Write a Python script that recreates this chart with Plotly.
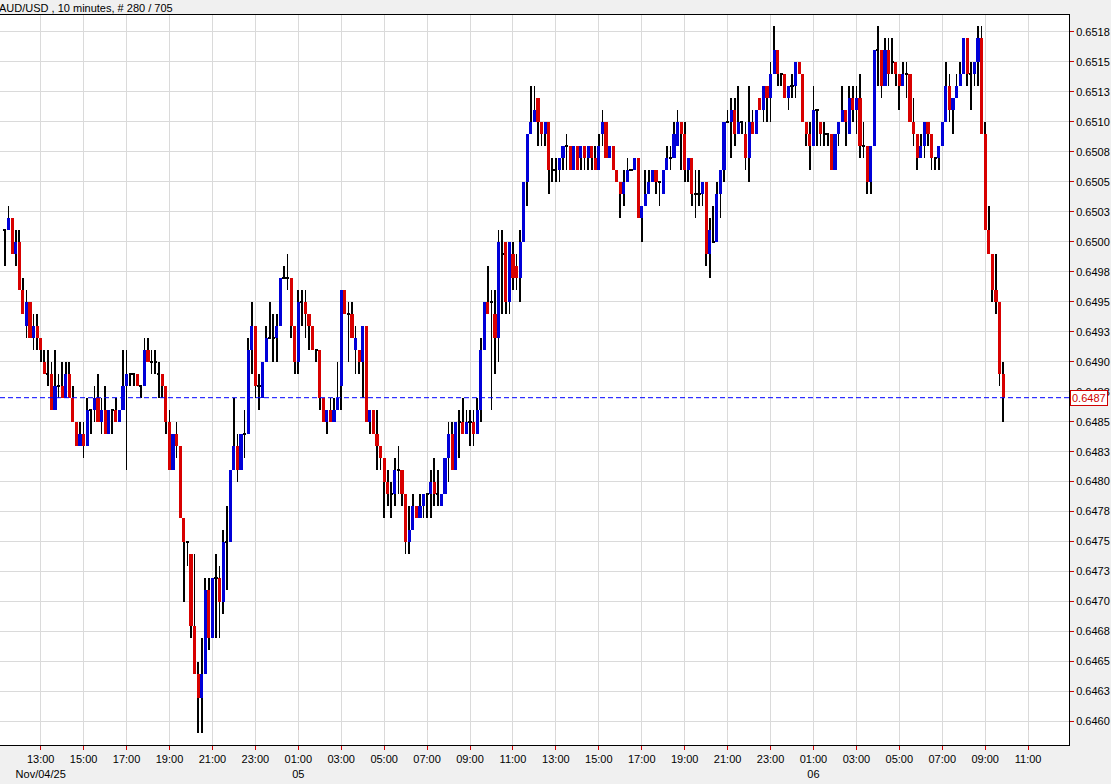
import plotly.graph_objects as go
import pandas as pd

# ---------------- data (AUD/USD, 10 minute bars) ----------------
times = pd.date_range("2025-11-04 11:20", periods=280, freq="10min")

opens = [
    0.6501, 0.6501, 0.6502, 0.6499, 0.6500, 0.6496, 0.6493, 0.6495, 0.6492, 0.6493,
    0.6492, 0.6490, 0.6489, 0.6489, 0.6486, 0.6488, 0.6488, 0.6487, 0.6489, 0.6487,
    0.6485, 0.6483, 0.6484, 0.6483, 0.6486, 0.6486, 0.6487, 0.6485, 0.6486, 0.6484,
    0.6486, 0.6486, 0.6485, 0.6486, 0.6488, 0.6489, 0.6489, 0.6489, 0.6488, 0.6488,
    0.6491, 0.6490, 0.6490, 0.6489, 0.6489, 0.6488, 0.6485, 0.6481, 0.6484, 0.6483,
    0.6477, 0.6475, 0.6474, 0.6468, 0.6464, 0.6462, 0.6464, 0.6471, 0.6467, 0.6472,
    0.6472, 0.6470, 0.6475, 0.6475, 0.6481, 0.6483, 0.6481, 0.6484, 0.6484, 0.6491,
    0.6493, 0.6488, 0.6487, 0.6490, 0.6492, 0.6492, 0.6492, 0.6493, 0.6497, 0.6497,
    0.6497, 0.6493, 0.6490, 0.6495, 0.6495, 0.6494, 0.6493, 0.6491, 0.6491, 0.6487,
    0.6485, 0.6486, 0.6485, 0.6486, 0.6488, 0.6496, 0.6494, 0.6494, 0.6491, 0.6491,
    0.6490, 0.6493, 0.6485, 0.6486, 0.6484, 0.6483, 0.6482, 0.6480, 0.6479, 0.6479,
    0.6481, 0.6481, 0.6479, 0.6475, 0.6476, 0.6478, 0.6477, 0.6478, 0.6479, 0.6479,
    0.6480, 0.6479, 0.6478, 0.6479, 0.6482, 0.6484, 0.6481, 0.6485, 0.6485, 0.6484,
    0.6485, 0.6485, 0.6484, 0.6486, 0.6491, 0.6495, 0.6495, 0.6494, 0.6492, 0.6499,
    0.6500, 0.6495, 0.6499, 0.6498, 0.6497, 0.6500, 0.6505, 0.6509, 0.6510, 0.6512,
    0.6510, 0.6509, 0.6510, 0.6506, 0.6506, 0.6506, 0.6507, 0.6508, 0.6508, 0.6506,
    0.6508, 0.6507, 0.6508, 0.6507, 0.6508, 0.6507, 0.6506, 0.6509, 0.6510, 0.6507,
    0.6508, 0.6506, 0.6505, 0.6504, 0.6505, 0.6506, 0.6506, 0.6507, 0.6502, 0.6503,
    0.6504, 0.6505, 0.6506, 0.6505, 0.6504, 0.6506, 0.6507, 0.6507, 0.6508, 0.6510,
    0.6509, 0.6506, 0.6507, 0.6504, 0.6504, 0.6504, 0.6505, 0.6499, 0.6500, 0.6500,
    0.6504, 0.6506, 0.6510, 0.6510, 0.6511, 0.6509, 0.6510, 0.6509, 0.6507, 0.6510,
    0.6509, 0.6512, 0.6511, 0.6513, 0.6512, 0.6514, 0.6516, 0.6514, 0.6514, 0.6512,
    0.6513, 0.6513, 0.6515, 0.6514, 0.6510, 0.6509, 0.6508, 0.6511, 0.6510, 0.6509,
    0.6509, 0.6509, 0.6506, 0.6509, 0.6510, 0.6511, 0.6509, 0.6512, 0.6511, 0.6512,
    0.6508, 0.6508, 0.6505, 0.6508, 0.6516, 0.6516, 0.6513, 0.6516, 0.6515, 0.6515,
    0.6514, 0.6513, 0.6514, 0.6514, 0.6510, 0.6509, 0.6507, 0.6508, 0.6510, 0.6509,
    0.6507, 0.6507, 0.6508, 0.6510, 0.6513, 0.6511, 0.6512, 0.6513, 0.6514, 0.6517,
    0.6514, 0.6514, 0.6515, 0.6517, 0.6509, 0.6501, 0.6499, 0.6496, 0.6495, 0.6489,
]

highs = [
    0.6501, 0.6503, 0.6502, 0.6501, 0.6501, 0.6497, 0.6496, 0.6495, 0.6494, 0.6494,
    0.6492, 0.6491, 0.6491, 0.6490, 0.6491, 0.6489, 0.6490, 0.6490, 0.6490, 0.6488,
    0.6485, 0.6485, 0.6485, 0.6487, 0.6486, 0.6488, 0.6489, 0.6487, 0.6488, 0.6486,
    0.6486, 0.6487, 0.6486, 0.6491, 0.6491, 0.6489, 0.6489, 0.6489, 0.6488, 0.6492,
    0.6492, 0.6491, 0.6491, 0.6490, 0.6489, 0.6488, 0.6486, 0.6484, 0.6485, 0.6483,
    0.6477, 0.6475, 0.6474, 0.6474, 0.6465, 0.6467, 0.6472, 0.6472, 0.6472, 0.6474,
    0.6473, 0.6476, 0.6478, 0.6481, 0.6487, 0.6484, 0.6484, 0.6486, 0.6492, 0.6495,
    0.6493, 0.6489, 0.6490, 0.6493, 0.6495, 0.6494, 0.6494, 0.6497, 0.6498, 0.6499,
    0.6497, 0.6493, 0.6496, 0.6496, 0.6496, 0.6494, 0.6493, 0.6491, 0.6491, 0.6487,
    0.6486, 0.6487, 0.6487, 0.6490, 0.6496, 0.6496, 0.6495, 0.6495, 0.6493, 0.6491,
    0.6493, 0.6493, 0.6486, 0.6486, 0.6486, 0.6483, 0.6482, 0.6481, 0.6480, 0.6482,
    0.6483, 0.6481, 0.6479, 0.6478, 0.6479, 0.6478, 0.6479, 0.6479, 0.6479, 0.6481,
    0.6482, 0.6481, 0.6479, 0.6482, 0.6485, 0.6485, 0.6485, 0.6486, 0.6487, 0.6486,
    0.6486, 0.6486, 0.6487, 0.6492, 0.6495, 0.6498, 0.6496, 0.6496, 0.6501, 0.6501,
    0.6500, 0.6500, 0.6500, 0.6499, 0.6501, 0.6505, 0.6509, 0.6513, 0.6513, 0.6512,
    0.6510, 0.6510, 0.6510, 0.6507, 0.6507, 0.6507, 0.6508, 0.6509, 0.6508, 0.6508,
    0.6508, 0.6508, 0.6508, 0.6508, 0.6508, 0.6508, 0.6509, 0.6511, 0.6510, 0.6508,
    0.6508, 0.6506, 0.6505, 0.6506, 0.6507, 0.6506, 0.6507, 0.6507, 0.6503, 0.6506,
    0.6506, 0.6506, 0.6506, 0.6505, 0.6506, 0.6508, 0.6508, 0.6510, 0.6511, 0.6510,
    0.6510, 0.6507, 0.6507, 0.6506, 0.6506, 0.6505, 0.6505, 0.6502, 0.6503, 0.6505,
    0.6506, 0.6510, 0.6511, 0.6512, 0.6512, 0.6513, 0.6510, 0.6510, 0.6513, 0.6511,
    0.6511, 0.6512, 0.6513, 0.6513, 0.6515, 0.6518, 0.6516, 0.6514, 0.6514, 0.6513,
    0.6514, 0.6515, 0.6515, 0.6514, 0.6510, 0.6510, 0.6513, 0.6511, 0.6510, 0.6510,
    0.6509, 0.6509, 0.6509, 0.6510, 0.6513, 0.6511, 0.6513, 0.6513, 0.6513, 0.6514,
    0.6510, 0.6508, 0.6508, 0.6516, 0.6518, 0.6516, 0.6517, 0.6517, 0.6517, 0.6515,
    0.6514, 0.6515, 0.6515, 0.6514, 0.6512, 0.6509, 0.6509, 0.6510, 0.6510, 0.6509,
    0.6507, 0.6508, 0.6510, 0.6515, 0.6514, 0.6512, 0.6514, 0.6515, 0.6517, 0.6517,
    0.6515, 0.6515, 0.6518, 0.6518, 0.6510, 0.6503, 0.6499, 0.6499, 0.6495, 0.6490,
]

lows = [
    0.6498, 0.6501, 0.6499, 0.6498, 0.6496, 0.6494, 0.6492, 0.6492, 0.6491, 0.6491,
    0.6490, 0.6489, 0.6488, 0.6486, 0.6486, 0.6487, 0.6487, 0.6487, 0.6487, 0.6485,
    0.6483, 0.6483, 0.6482, 0.6483, 0.6484, 0.6485, 0.6485, 0.6484, 0.6484, 0.6484,
    0.6484, 0.6485, 0.6485, 0.6486, 0.6481, 0.6488, 0.6488, 0.6488, 0.6487, 0.6488,
    0.6490, 0.6489, 0.6489, 0.6487, 0.6487, 0.6484, 0.6481, 0.6481, 0.6482, 0.6477,
    0.6470, 0.6473, 0.6467, 0.6464, 0.6459, 0.6459, 0.6464, 0.6466, 0.6467, 0.6467,
    0.6467, 0.6469, 0.6471, 0.6475, 0.6481, 0.6480, 0.6481, 0.6482, 0.6484, 0.6489,
    0.6487, 0.6486, 0.6487, 0.6490, 0.6492, 0.6490, 0.6490, 0.6493, 0.6497, 0.6496,
    0.6492, 0.6489, 0.6489, 0.6493, 0.6492, 0.6491, 0.6491, 0.6490, 0.6486, 0.6485,
    0.6484, 0.6485, 0.6485, 0.6486, 0.6486, 0.6494, 0.6490, 0.6492, 0.6489, 0.6489,
    0.6487, 0.6485, 0.6484, 0.6484, 0.6481, 0.6481, 0.6477, 0.6478, 0.6477, 0.6478,
    0.6479, 0.6478, 0.6474, 0.6474, 0.6476, 0.6477, 0.6477, 0.6477, 0.6477, 0.6477,
    0.6478, 0.6478, 0.6478, 0.6479, 0.6480, 0.6481, 0.6481, 0.6482, 0.6484, 0.6484,
    0.6483, 0.6483, 0.6484, 0.6485, 0.6491, 0.6494, 0.6486, 0.6489, 0.6490, 0.6494,
    0.6494, 0.6494, 0.6496, 0.6496, 0.6495, 0.6500, 0.6503, 0.6509, 0.6510, 0.6508,
    0.6508, 0.6508, 0.6504, 0.6505, 0.6505, 0.6505, 0.6506, 0.6506, 0.6506, 0.6506,
    0.6506, 0.6506, 0.6506, 0.6506, 0.6506, 0.6506, 0.6506, 0.6508, 0.6507, 0.6507,
    0.6506, 0.6505, 0.6502, 0.6503, 0.6505, 0.6506, 0.6506, 0.6502, 0.6500, 0.6503,
    0.6504, 0.6505, 0.6504, 0.6503, 0.6504, 0.6506, 0.6506, 0.6507, 0.6508, 0.6506,
    0.6505, 0.6505, 0.6503, 0.6502, 0.6503, 0.6503, 0.6498, 0.6497, 0.6500, 0.6500,
    0.6502, 0.6505, 0.6510, 0.6507, 0.6508, 0.6509, 0.6509, 0.6506, 0.6505, 0.6509,
    0.6509, 0.6511, 0.6510, 0.6510, 0.6510, 0.6514, 0.6513, 0.6513, 0.6512, 0.6511,
    0.6512, 0.6512, 0.6514, 0.6510, 0.6508, 0.6506, 0.6508, 0.6508, 0.6508, 0.6508,
    0.6508, 0.6506, 0.6506, 0.6508, 0.6510, 0.6508, 0.6509, 0.6510, 0.6509, 0.6507,
    0.6507, 0.6504, 0.6504, 0.6508, 0.6513, 0.6512, 0.6513, 0.6513, 0.6514, 0.6513,
    0.6511, 0.6513, 0.6512, 0.6510, 0.6508, 0.6506, 0.6507, 0.6507, 0.6508, 0.6506,
    0.6506, 0.6506, 0.6508, 0.6510, 0.6510, 0.6509, 0.6512, 0.6513, 0.6514, 0.6513,
    0.6511, 0.6513, 0.6513, 0.6509, 0.6501, 0.6499, 0.6495, 0.6494, 0.6488, 0.6485,
]

closes = [
    0.6501, 0.6502, 0.6499, 0.6500, 0.6496, 0.6494, 0.6495, 0.6492, 0.6493, 0.6492,
    0.6491, 0.6489, 0.6489, 0.6486, 0.6488, 0.6488, 0.6487, 0.6489, 0.6487, 0.6485,
    0.6483, 0.6484, 0.6483, 0.6486, 0.6486, 0.6487, 0.6485, 0.6486, 0.6484, 0.6486,
    0.6486, 0.6485, 0.6486, 0.6488, 0.6489, 0.6489, 0.6489, 0.6488, 0.6488, 0.6491,
    0.6490, 0.6490, 0.6490, 0.6489, 0.6488, 0.6485, 0.6481, 0.6484, 0.6483, 0.6477,
    0.6475, 0.6475, 0.6468, 0.6464, 0.6462, 0.6464, 0.6471, 0.6467, 0.6472, 0.6472,
    0.6470, 0.6475, 0.6475, 0.6481, 0.6483, 0.6481, 0.6484, 0.6484, 0.6491, 0.6493,
    0.6488, 0.6488, 0.6490, 0.6492, 0.6492, 0.6492, 0.6493, 0.6497, 0.6497, 0.6497,
    0.6493, 0.6490, 0.6495, 0.6495, 0.6494, 0.6493, 0.6491, 0.6491, 0.6487, 0.6485,
    0.6486, 0.6485, 0.6486, 0.6487, 0.6496, 0.6494, 0.6494, 0.6492, 0.6492, 0.6490,
    0.6493, 0.6485, 0.6486, 0.6484, 0.6483, 0.6482, 0.6480, 0.6479, 0.6479, 0.6481,
    0.6481, 0.6479, 0.6475, 0.6476, 0.6478, 0.6477, 0.6478, 0.6479, 0.6479, 0.6480,
    0.6479, 0.6479, 0.6479, 0.6482, 0.6484, 0.6481, 0.6485, 0.6485, 0.6484, 0.6485,
    0.6485, 0.6484, 0.6486, 0.6491, 0.6495, 0.6494, 0.6495, 0.6492, 0.6500, 0.6499,
    0.6495, 0.6500, 0.6497, 0.6497, 0.6500, 0.6505, 0.6509, 0.6510, 0.6511, 0.6510,
    0.6509, 0.6510, 0.6506, 0.6506, 0.6506, 0.6507, 0.6508, 0.6508, 0.6506, 0.6508,
    0.6506, 0.6508, 0.6507, 0.6508, 0.6507, 0.6506, 0.6508, 0.6510, 0.6507, 0.6508,
    0.6506, 0.6505, 0.6504, 0.6505, 0.6506, 0.6506, 0.6507, 0.6502, 0.6503, 0.6504,
    0.6505, 0.6506, 0.6505, 0.6505, 0.6506, 0.6507, 0.6507, 0.6509, 0.6510, 0.6509,
    0.6506, 0.6507, 0.6504, 0.6504, 0.6504, 0.6505, 0.6499, 0.6501, 0.6500, 0.6504,
    0.6506, 0.6510, 0.6510, 0.6511, 0.6509, 0.6510, 0.6510, 0.6507, 0.6510, 0.6509,
    0.6511, 0.6511, 0.6513, 0.6512, 0.6514, 0.6516, 0.6514, 0.6514, 0.6512, 0.6513,
    0.6513, 0.6515, 0.6514, 0.6510, 0.6509, 0.6508, 0.6511, 0.6511, 0.6509, 0.6509,
    0.6509, 0.6506, 0.6509, 0.6510, 0.6511, 0.6510, 0.6512, 0.6511, 0.6512, 0.6508,
    0.6508, 0.6505, 0.6508, 0.6516, 0.6516, 0.6513, 0.6516, 0.6514, 0.6515, 0.6514,
    0.6513, 0.6514, 0.6514, 0.6510, 0.6509, 0.6507, 0.6508, 0.6510, 0.6509, 0.6507,
    0.6507, 0.6508, 0.6510, 0.6513, 0.6511, 0.6512, 0.6513, 0.6514, 0.6517, 0.6514,
    0.6514, 0.6515, 0.6517, 0.6509, 0.6501, 0.6499, 0.6496, 0.6495, 0.6489, 0.6487,
]

title_text = "AUD/USD , 10 minutes, # 280 / 705"

xtick_times = [
    "2025-11-04 13:00", "2025-11-04 15:00", "2025-11-04 17:00", "2025-11-04 19:00",
    "2025-11-04 21:00", "2025-11-04 23:00", "2025-11-05 01:00", "2025-11-05 03:00",
    "2025-11-05 05:00", "2025-11-05 07:00", "2025-11-05 09:00", "2025-11-05 11:00",
    "2025-11-05 13:00", "2025-11-05 15:00", "2025-11-05 17:00", "2025-11-05 19:00",
    "2025-11-05 21:00", "2025-11-05 23:00", "2025-11-06 01:00", "2025-11-06 03:00",
    "2025-11-06 05:00", "2025-11-06 07:00", "2025-11-06 09:00", "2025-11-06 11:00",
]
xtick_labels = [
    "13:00<br>Nov/04/25", "15:00", "17:00", "19:00", "21:00", "23:00", "01:00<br>05",
    "03:00", "05:00", "07:00", "09:00", "11:00", "13:00", "15:00", "17:00", "19:00",
    "21:00", "23:00", "01:00<br>06", "03:00", "05:00", "07:00", "09:00", "11:00",
]

ytick_values = [
    0.64600, 0.64625, 0.64650, 0.64675, 0.64700, 0.64725, 0.64750, 0.64775,
    0.64800, 0.64825, 0.64850, 0.64875, 0.64900, 0.64925, 0.64950, 0.64975,
    0.65000, 0.65025, 0.65050, 0.65075, 0.65100, 0.65125, 0.65150, 0.65175,
]
ytick_labels = [
    "0.6460", "0.6463", "0.6465", "0.6468", "0.6470", "0.6473", "0.6475", "0.6478",
    "0.6480", "0.6483", "0.6485", "0.6488", "0.6490", "0.6493", "0.6495", "0.6498",
    "0.6500", "0.6503", "0.6505", "0.6508", "0.6510", "0.6513", "0.6515", "0.6518",
]

# ---------------- styling ----------------
UP = "#0000d8"
DOWN = "#d80000"
GRID = "#dadada"
FONT = "Liberation Sans, Arial, sans-serif"
BAR_MS = 10 * 60 * 1000           # one bar interval in ms
BODY_W = 0.88 * BAR_MS            # body width (~3 px)
WICK_W = 0.2 * BAR_MS             # wick width (~1 px)

# wicks (high-low), drawn as thin bars behind the bodies
wick_base = [min(l, o, c) for o, l, c in zip(opens, lows, closes)]
wick_len = [max(h, o, c) - b for o, h, c, b in zip(opens, highs, closes, wick_base)]

# bodies
base, height, colors = [], [], []
DOJI = 0.000010
for o, c in zip(opens, closes):
    if c > o:
        base.append(o); height.append(c - o); colors.append(UP)
    elif c < o:
        base.append(c); height.append(o - c); colors.append(DOWN)
    else:
        base.append(o - DOJI / 2); height.append(DOJI); colors.append("#000000")

fig = go.Figure()
fig.add_trace(go.Bar(x=times, y=wick_len, base=wick_base, width=WICK_W,
                     marker=dict(color="black", line=dict(width=0)),
                     hoverinfo="skip", showlegend=False))
fig.add_trace(go.Bar(x=times, y=height, base=base, width=BODY_W,
                     marker=dict(color=colors, line=dict(width=0)),
                     showlegend=False))

last = closes[-1]
fig.add_shape(type="line", xref="paper", x0=0, x1=1, yref="y", y0=last, y1=last,
              line=dict(color="#0000ff", width=1, dash="5px,3px"))
fig.add_annotation(xref="paper", x=1, xanchor="left", yref="y", y=last,
                   text=f"{last:.4f}", showarrow=False, xshift=1,
                   font=dict(family=FONT, size=11, color="#d00000"),
                   bgcolor="white", bordercolor="#d00000", borderwidth=1, borderpad=1)
fig.add_annotation(xref="paper", x=0, xanchor="left", yref="paper", y=1, yanchor="bottom",
                   text=title_text, showarrow=False, xshift=-3, yshift=-1,
                   font=dict(family=FONT, size=11, color="black"))

fig.update_layout(
    width=1111, height=784,
    margin=dict(l=0, r=42, t=15, b=39),
    paper_bgcolor="#f0f0f0", plot_bgcolor="white",
    showlegend=False, barmode="overlay", bargap=0,
    font=dict(family=FONT, size=11, color="black"),
    xaxis=dict(type="date",
               range=["2025-11-04 11:06:15", "2025-11-06 12:54:15"],
               tickmode="array", tickvals=xtick_times, ticktext=xtick_labels,
               tickangle=0, showgrid=True, gridcolor=GRID, gridwidth=1,
               showline=True, linecolor="black", linewidth=1, mirror=True,
               ticks="outside", tickcolor="#d00000", ticklen=4, tickwidth=1,
               zeroline=False, fixedrange=True),
    yaxis=dict(side="right", range=[0.645804, 0.651891],
               tickmode="array", tickvals=ytick_values, ticktext=ytick_labels,
               showgrid=True, gridcolor=GRID, gridwidth=1,
               showline=True, linecolor="black", linewidth=1,
               ticks="outside", tickcolor="#d00000", ticklen=4, tickwidth=1,
               zeroline=False, fixedrange=True),
)

fig.write_html("out.html", config={"displayModeBar": False})

# remove the browser's default page margin so the figure sits at (0, 0)
with open("out.html", "r", encoding="utf-8") as f:
    html = f.read()
html = html.replace("<head>", "<head><style>html,body{margin:0;padding:0;overflow:hidden;}</style>", 1)
with open("out.html", "w", encoding="utf-8") as f:
    f.write(html)
